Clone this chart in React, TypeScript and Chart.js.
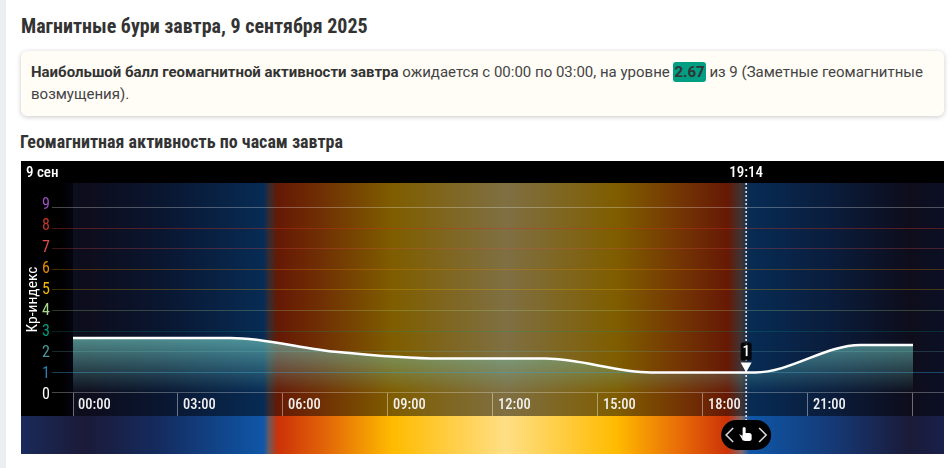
import React, { useEffect, useRef } from "react";
import { Chart, registerables } from "chart.js";

Chart.register(...registerables);

const kpHours = [0, 1.5, 4.5, 7.5, 10.5, 13.5, 16.5, 19.5, 22.5, 24];
const kpValues = [2.67, 2.67, 2.67, 2, 1.67, 1.67, 1, 1, 2.33, 2.33];
const levelColors = ["#ffffff", "#2a82b4", "#4a9c9c", "#009e82", "#a8dc8c", "#f5b800", "#e88a00", "#e05050", "#c0392b", "#9b4fc0"];
const gridColors = ["rgba(255,255,255,.28)", "rgba(50,140,190,.45)", "rgba(90,170,170,.25)", "rgba(0,160,130,.22)", "rgba(170,220,140,.26)", "rgba(245,184,0,.25)", "rgba(232,138,0,.28)", "rgba(224,80,80,.28)", "rgba(200,50,40,.38)", "rgba(255,255,255,.28)"];
const skyHours = [-1.49, 0.34, 2.5, 5.45, 5.6, 5.85, 7.09, 9.14, 12.37, 15.51, 17.37, 18.71, 19.11, 19.34, 21.63, 23.91, 24.89];
const skyColors = ["#1a2a5a", "#1b1a38", "#142c60", "#0f57a8", "#6a5a60", "#cc3208", "#e06008", "#ffbb00", "#ffdf85", "#ffbb00", "#e86a08", "#cc3208", "#7a6a70", "#0f57a8", "#153a78", "#1b1a38", "#18204a"];
const cursorHour = 19.233;
const cursorValue = 1;
const cursorTime = "19:14";
const dayLabel = "9 сен";
const FONT = '"Roboto Condensed","Liberation Sans Narrow","Roboto",sans-serif';

const roundFill = (ctx: any, x: number, y: number, w: number, h: number, r: number) => {
  ctx.beginPath();
  ctx.roundRect(x, y, w, h, r);
  ctx.fill();
};

const backdrop = {
  id: "backdrop",
  beforeDraw(chart: any) {
    const { ctx, width, height, scales } = chart;
    const x = scales.x;
    const area = chart.chartArea;
    const g = ctx.createLinearGradient(0, 0, width, 0);
    skyHours.forEach((h, i) => {
      const p = x.getPixelForValue(h) / width;
      g.addColorStop(Math.min(1, Math.max(0, p)), skyColors[i]);
    });
    ctx.save();
    ctx.fillStyle = g;
    ctx.fillRect(0, 0, width, height);
    ctx.fillStyle = "rgba(0,0,0,.5)";
    ctx.fillRect(area.left, area.top, width - area.left, area.bottom - area.top);
    const shade = ctx.createLinearGradient(0, 0, area.left, 0);
    shade.addColorStop(0, "rgba(0,0,0,1)");
    shade.addColorStop(0.75, "rgba(0,0,0,1)");
    shade.addColorStop(1, "rgba(3,3,12,.96)");
    ctx.fillStyle = shade;
    ctx.fillRect(0, area.top, area.left, area.bottom - area.top);
    ctx.fillStyle = "#000";
    ctx.fillRect(0, 0, width, area.top);
    ctx.restore();
  },
};

const cursor = {
  id: "cursor",
  afterDraw(chart: any) {
    const { ctx, scales } = chart;
    const px = scales.x.getPixelForValue(cursorHour);
    const py = scales.y.getPixelForValue(cursorValue);
    const area = chart.chartArea;
    ctx.save();
    ctx.font = `500 15px ${FONT}`;
    ctx.textBaseline = "middle";
    ctx.fillStyle = "#fff";
    ctx.textAlign = "left";
    ctx.fillText(dayLabel, 5, 12);
    ctx.textAlign = "center";
    ctx.fillText(cursorTime, px, 12);

    ctx.strokeStyle = "rgba(255,255,255,.9)";
    ctx.lineWidth = 1.5;
    ctx.setLineDash([2, 2]);
    ctx.beginPath();
    ctx.moveTo(px, area.top);
    ctx.lineTo(px, area.bottom + 6);
    ctx.stroke();
    ctx.setLineDash([]);

    ctx.fillStyle = "#fff";
    ctx.beginPath();
    ctx.moveTo(px - 5.5, py - 10);
    ctx.lineTo(px + 5.5, py - 10);
    ctx.lineTo(px, py);
    ctx.closePath();
    ctx.fill();

    ctx.fillStyle = "rgba(0,0,0,.85)";
    roundFill(ctx, px - 5.5, py - 30, 11, 18, 2);
    ctx.fillStyle = "#fff";
    ctx.font = `500 15px ${FONT}`;
    ctx.fillText(String(cursorValue), px, py - 20.5);

    const cy = area.bottom + 19;
    ctx.fillStyle = "#000";
    roundFill(ctx, px - 25, cy - 15, 50, 30, 15);
    ctx.strokeStyle = "#d8d8d8";
    ctx.lineWidth = 1.6;
    ctx.beginPath();
    ctx.moveTo(px - 13, cy - 7);
    ctx.lineTo(px - 20, cy);
    ctx.lineTo(px - 13, cy + 7);
    ctx.moveTo(px + 13, cy - 7);
    ctx.lineTo(px + 20, cy);
    ctx.lineTo(px + 13, cy + 7);
    ctx.stroke();
    ctx.fillStyle = "#fff";
    roundFill(ctx, px - 3.5, cy - 8, 3, 11, 1.5);
    roundFill(ctx, px - 3.5, cy - 2, 9, 8, 2.5);
    ctx.beginPath();
    ctx.moveTo(px - 3.5, cy + 1);
    ctx.lineTo(px - 7, cy - 1);
    ctx.lineTo(px - 3, cy + 6);
    ctx.closePath();
    ctx.fill();
    ctx.restore();
  },
};

export default function App() {
  const ref = useRef<HTMLCanvasElement | null>(null);
  useEffect(() => {
    document.body.style.margin = "0";
    const chart = new Chart(ref.current as HTMLCanvasElement, {
      type: "line",
      plugins: [backdrop, cursor],
      data: {
        datasets: [
          {
            data: kpHours.map((h, i) => ({ x: h, y: kpValues[i] })),
            borderColor: "#ffffff",
            borderWidth: 2.5,
            pointRadius: 0,
            cubicInterpolationMode: "monotone",
            fill: "origin",
            backgroundColor: (c: any) => {
              const { chart: ch } = c;
              if (!ch.chartArea) return "transparent";
              const y = ch.scales.y;
              const g = ch.ctx.createLinearGradient(0, y.getPixelForValue(2.67), 0, y.getPixelForValue(0));
              g.addColorStop(0, "rgba(115,205,195,.65)");
              g.addColorStop(1, "rgba(115,205,195,0)");
              return g;
            },
          },
        ],
      },
      options: {
        animation: false,
        responsive: false,
        events: [],
        layout: { padding: { top: 22, bottom: 38 } },
        plugins: { legend: { display: false }, tooltip: { enabled: false }, title: { display: false } },
        scales: {
          x: {
            type: "linear",
            min: 0,
            max: 24.886,
            position: { y: 0 },
            border: { display: false },
            grid: { drawOnChartArea: false, color: "rgba(255,255,255,.4)", tickLength: 23 },
            afterBuildTicks: (s: any) => {
              s.ticks = [0, 3, 6, 9, 12, 15, 18, 21, 24].map((value) => ({ value }));
            },
            ticks: {
              autoSkip: false,
              maxRotation: 0,
              minRotation: 0,
              align: "start",
              padding: -19,
              labelOffset: 5,
              color: "#f0f0f0",
              font: { family: FONT, size: 14.5, weight: "500" },
              callback: (v: any) => (v === 24 ? "" : `${String(v).padStart(2, "0")}:00`),
            },
          },
          y: {
            type: "linear",
            min: -1.117,
            max: 10.19,
            weight: 0,
            border: { display: false },
            afterFit: (s: any) => {
              s.width = 0;
              s.paddingTop = 0;
              s.paddingBottom = 0;
            },
            afterBuildTicks: (s: any) => {
              s.ticks = levelColors.map((_, value) => ({ value }));
            },
            grid: {
              tickLength: 21,
              lineWidth: 1,
              color: (c: any) => gridColors[c.tick?.value] ?? "transparent",
            },
            ticks: { display: false },
          },
          yLabels: {
            type: "linear",
            position: "left",
            min: -0.98,
            max: 10.06,
            weight: 1,
            border: { display: false },
            afterFit: (s: any) => {
              s.width = 52;
              s.paddingTop = 0;
              s.paddingBottom = 0;
            },
            afterBuildTicks: (s: any) => {
              s.ticks = levelColors.map((_, value) => ({ value }));
            },
            title: {
              display: true,
              text: "Кр-индекс",
              color: "#ffffff",
              padding: { top: 3, bottom: 0 },
              font: { family: FONT, size: 15.5, weight: "400" },
            },
            grid: { display: false, drawTicks: false },
            ticks: {
              autoSkip: false,
              padding: 23,
              color: (c: any) => levelColors[c.tick?.value] ?? "#fff",
              font: { family: FONT, size: 16, weight: "400" },
            },
          },
        },
      },
    } as any);
    return () => chart.destroy();
  }, []);

  const abs = (left: number, top: number, extra: React.CSSProperties = {}): React.CSSProperties => ({ position: "absolute", left, top, ...extra });
  return (
    <div style={{ position: "relative", width: 952, height: 468, background: "#fff", overflow: "hidden", fontFamily: '"Roboto Condensed","Liberation Sans Narrow",Roboto,sans-serif', color: "#333" }}>
      <div style={abs(0, 0, { width: 6, height: 468, background: "#eceef2" })} />
      <div style={abs(21, 13, { fontSize: 20, fontWeight: 700, lineHeight: "26px", whiteSpace: "nowrap" })}>Магнитные бури завтра, 9 сентября 2025</div>
      <div style={abs(21, 51, { width: 923, height: 65, background: "#fffdf6", borderRadius: 6, boxShadow: "0 1px 5px rgba(0,0,0,.22)" })} />
      <div style={abs(31, 61, { width: 905, fontFamily: "Roboto,sans-serif", fontSize: 15, lineHeight: "22px", color: "#444" })}>
        <b style={{ color: "#333" }}>Наибольшой балл геомагнитной активности завтра</b> ожидается с 00:00 по 03:00, на уровне{" "}
        <b style={{ background: "#009e82", borderRadius: 3, padding: "1px 1px", color: "#333" }}>2.67</b> из 9 (Заметные геомагнитные возмущения).
      </div>
      <div style={abs(20, 131, { fontSize: 18, fontWeight: 700, lineHeight: "22px", whiteSpace: "nowrap" })}>Геомагнитная активность по часам завтра</div>
      <canvas ref={ref} width={923} height={293} style={abs(21, 161, { display: "block" })} />
    </div>
  );
}
